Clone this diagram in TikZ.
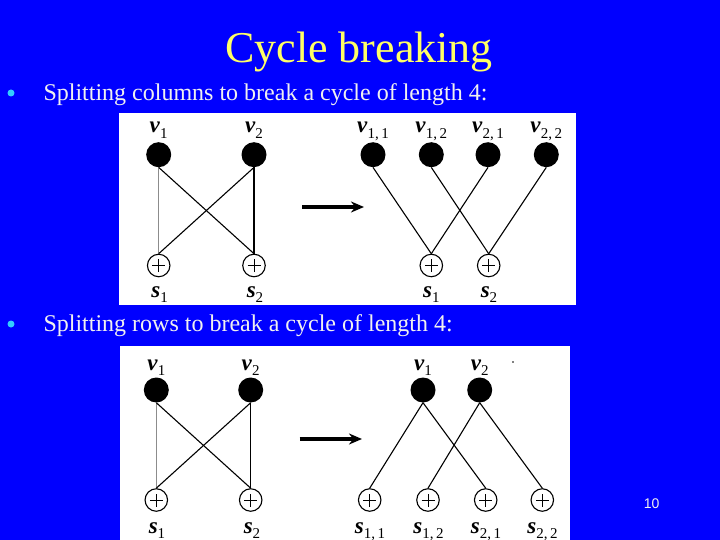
\documentclass[tikz,border=0pt]{standalone}
\usepackage{fontspec}
\setmainfont{Liberation Serif}
\newfontfamily\numfont{Liberation Sans}
\usetikzlibrary{arrows.meta}
\definecolor{slideblue}{RGB}{0,0,255}
\definecolor{titleyellow}{RGB}{255,255,102}
\definecolor{bulletcyan}{RGB}{51,204,255}
\definecolor{textwhite}{RGB}{240,240,240}
\newcommand{\lbl}[2]{\textbf{\textit{#1}}\raisebox{-0.22em}{\fontsize{15}{16}\selectfont #2}}
\tikzset{
  vnode/.style={circle,fill=black,minimum size=25pt,inner sep=0pt},
  pnode/.style={circle,draw=black,fill=white,line width=1.1pt,minimum size=22.5pt,inner sep=0pt,
    path picture={
      \draw[line width=0.7pt] ([xshift=-6.5pt]path picture bounding box.center) -- ([xshift=6.5pt]path picture bounding box.center);
      \draw[line width=0.7pt] ([yshift=-6.5pt]path picture bounding box.center) -- ([yshift=6.5pt]path picture bounding box.center);}},
  lab/.style={anchor=base,inner sep=0pt,font=\fontsize{23}{26}\selectfont},
  edgeline/.style={line width=1.1pt,black},
  faintline/.style={line width=0.7pt,black!45},
  bigarrow/.style={line width=3.4pt,-{Stealth[length=13pt,width=11pt]}},
  bullettext/.style={anchor=base west,inner sep=0pt,font=\fontsize{24}{28}\selectfont,text=textwhite},
  bulletdot/.style={circle,fill=bulletcyan,minimum size=7pt,inner sep=0pt},
  whitebox/.style={fill=white}
}
\begin{document}
\begin{tikzpicture}[x=1pt,y=-1pt]
\fill[slideblue] (0,0) rectangle (720,540);
\useasboundingbox (0,0) rectangle (720,540);

% title and bullets
\node[anchor=base,inner sep=0pt,font=\fontsize{44}{50}\selectfont,text=titleyellow] (title) at (359,63) {Cycle breaking};
\node[bulletdot] (d1) at (11,93) {};
\node[bullettext] (b1) at (43.3,100.5) {Splitting columns to break a cycle of length 4:};
\node[bulletdot] (d2) at (11,324) {};
\node[bullettext] (b2) at (43.3,331) {Splitting rows to break a cycle of length 4:};

% white panels
\fill[whitebox] (118.5,113) rectangle (576,304.5);
\fill[whitebox] (119.7,346) rectangle (569.7,540);

% ===== Diagram 1: splitting columns =====
\node[vnode] (av1) at (158.7,154.7) {};
\node[vnode] (av2) at (254,154.7) {};
\node[pnode] (as1) at (158.7,265.5) {};
\node[pnode] (as2) at (254,265.5) {};
\node[lab] (lav1) at (158.7,133) {\lbl{v}{1}};
\node[lab] (lav2) at (254,133) {\lbl{v}{2}};
\node[lab] (las1) at (159.7,297) {\lbl{s}{1}};
\node[lab] (las2) at (255,297) {\lbl{s}{2}};
\draw[faintline] (av1.south) -- (as1.north);
\draw[edgeline] (av1.south) -- (as2.north);
\draw[edgeline] (av2.south) -- (as1.north);
\draw[edgeline] (av2.south) -- (as2.north);

\coordinate (a1s) at (302,207);
\coordinate (a1e) at (364,207);
\draw[bigarrow] (a1s) -- (a1e);

\node[vnode] (bv11) at (373,154.7) {};
\node[vnode] (bv12) at (431.3,154.7) {};
\node[vnode] (bv21) at (488,154.7) {};
\node[vnode] (bv22) at (546.3,154.7) {};
\node[pnode] (bs1) at (431.3,265.5) {};
\node[pnode] (bs2) at (488.7,265.5) {};
\node[lab] (lbv11) at (373,133) {\lbl{v}{1,\,1}};
\node[lab] (lbv12) at (431.3,133) {\lbl{v}{1,\,2}};
\node[lab] (lbv21) at (488,133) {\lbl{v}{2,\,1}};
\node[lab] (lbv22) at (546.3,133) {\lbl{v}{2,\,2}};
\node[lab] (lbs1) at (431.3,297) {\lbl{s}{1}};
\node[lab] (lbs2) at (489,297) {\lbl{s}{2}};
\draw[edgeline] (bv11.south) -- (bs1.north);
\draw[edgeline] (bv21.south) -- (bs1.north);
\draw[edgeline] (bv12.south) -- (bs2.north);
\draw[edgeline] (bv22.south) -- (bs2.north);

% ===== Diagram 2: splitting rows =====
\node[vnode] (cv1) at (156.3,390) {};
\node[vnode] (cv2) at (250.7,390) {};
\node[pnode] (cs1) at (156.3,500) {};
\node[pnode] (cs2) at (250.7,500) {};
\node[lab] (lcv1) at (156.3,370) {\lbl{v}{1}};
\node[lab] (lcv2) at (250.7,370) {\lbl{v}{2}};
\node[lab] (lcs1) at (157,533) {\lbl{s}{1}};
\node[lab] (lcs2) at (252,533) {\lbl{s}{2}};
\draw[faintline] (cv1.south) -- (cs1.north);
\draw[edgeline] (cv1.south) -- (cs2.north);
\draw[edgeline] (cv2.south) -- (cs1.north);
\draw[edgeline] (cv2.south) -- (cs2.north);

\coordinate (a2s) at (299.7,439);
\coordinate (a2e) at (362,439);
\draw[bigarrow] (a2s) -- (a2e);

\node[vnode] (dv1) at (423,390) {};
\node[vnode] (dv2) at (479.7,390) {};
\node[pnode] (ds11) at (369.7,500) {};
\node[pnode] (ds12) at (428,500) {};
\node[pnode] (ds21) at (485.7,500) {};
\node[pnode] (ds22) at (542.3,500) {};
\node[lab] (ldv1) at (423,370) {\lbl{v}{1}};
\node[lab] (ldv2) at (479.7,370) {\lbl{v}{2}};
\node[lab] (lds11) at (370,533) {\lbl{s}{1,\,1}};
\node[lab] (lds12) at (428.5,533) {\lbl{s}{1,\,2}};
\node[lab] (lds21) at (486,533) {\lbl{s}{2,\,1}};
\node[lab] (lds22) at (542.5,533) {\lbl{s}{2,\,2}};
\draw[edgeline] (dv1.south) -- (ds11.north);
\draw[edgeline] (dv1.south) -- (ds21.north);
\draw[edgeline] (dv2.south) -- (ds12.north);
\draw[edgeline] (dv2.south) -- (ds22.north);
\node[circle,fill=black,minimum size=1.8pt,inner sep=0pt] (speck) at (513,362) {};

% page number
\node[font=\numfont\fontsize{14}{16}\selectfont,text=textwhite,inner sep=0pt] (pnum) at (651.7,504) {10};
\end{tikzpicture}
\end{document}
